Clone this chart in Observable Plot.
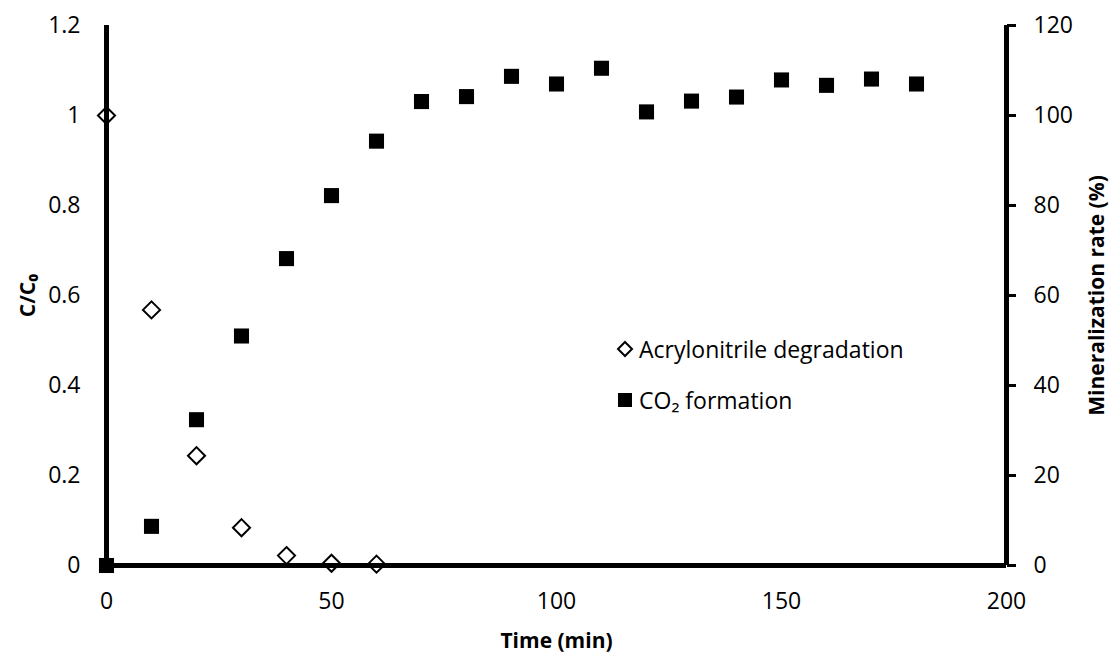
<!DOCTYPE html>
<html>
<head>
<meta charset="utf-8">
<script src="https://cdn.jsdelivr.net/npm/d3@7"></script>
<script src="https://cdn.jsdelivr.net/npm/@observablehq/plot@0.6"></script>
<style>
  body { margin: 0; background: #fff; }
  #wrap { position: relative; width: 1111px; height: 652px; font-family: "Open Sans", sans-serif; }
  #legend { position: absolute; left: 615px; top: 333px; font-size: 23px; color: #000; line-height: 1; }
  #legend .row { display: flex; align-items: center; height: 32px; margin-bottom: 19px; }
  #legend svg { margin-right: 4px; }
</style>
</head>
<body>
<div id="wrap"><div id="legend"></div></div>
<script>
const timeMin = [0,10,20,30,40,50,60,70,80,90,100,110,120,130,140,150,160,170,180];
const acryTime = [0,10,20,30,40,50,60];
const acryCC0 = [1.0,0.568,0.244,0.084,0.022,0.005,0.003];
const co2Rate = [0,8.7,32.4,51.0,68.2,82.2,94.3,103.1,104.2,108.7,107.0,110.5,100.8,103.2,104.1,107.9,106.7,108.1,107.0];
const xTicks = [0,50,100,150,200];
const yTicksLeft = [0,0.2,0.4,0.6,0.8,1.0,1.2];
const seriesNames = ["Acrylonitrile degradation","CO\u2082 formation"];

const acry = acryTime.map((t,i)=>({t, v: acryCC0[i]}));
// CO2 plotted on shared y scale: right axis = left * 100
const co2 = timeMin.map((t,i)=>({t, v: co2Rate[i]/100}));

const font = "Open Sans, sans-serif";
const chart = Plot.plot({
  width: 1111,
  height: 652,
  marginLeft: 106,
  marginRight: 105,
  marginTop: 25,
  marginBottom: 87,
  style: {fontFamily: font, fontSize: "23px", color: "#000", background: "#fff"},
  x: {domain: [0,200]},
  y: {domain: [0,1.2]},
  marks: [
    Plot.axisX({ticks: xTicks, tickSize: 0, tickPadding: 27, fontSize: 23, label: null}),
    Plot.axisY({anchor: "left", ticks: yTicksLeft, tickSize: 0, tickPadding: 26, fontSize: 23,
      tickFormat: d => d3.format("~g")(d), label: null}),
    Plot.axisY({anchor: "right", ticks: yTicksLeft, tickSize: 9, strokeWidth: 3, tickPadding: 18, fontSize: 23,
      tickFormat: d => String(Math.round(d*100)), label: null}),
    Plot.ruleX([0], {y1: 0, y2: 1.2, strokeWidth: 5}),
    Plot.ruleX([200], {y1: 0, y2: 1.2, strokeWidth: 5}),
    Plot.ruleY([0], {x1: 0, x2: 200, strokeWidth: 5}),
    Plot.dot(co2, {x: "t", y: "v", symbol: "square", r: 8.5, fill: "#000", stroke: "none"}),
    Plot.dot(acry, {x: "t", y: "v", symbol: "diamond2", r: 7.7, fill: "none", stroke: "#000", strokeWidth: 2}),
    Plot.text(["Time (min)"], {frameAnchor: "bottom", textAnchor: "middle", dy: 82, fontSize: 21, fontWeight: "bold"}),
    Plot.text(["C/C\u2080"], {frameAnchor: "left", textAnchor: "middle", dx: -78, rotate: -90, fontSize: 21, fontWeight: "bold"}),
    Plot.text(["Mineralization rate (%)"], {frameAnchor: "right", textAnchor: "middle", dx: 91, rotate: -90, fontSize: 21, fontWeight: "bold"})
  ]
});
const wrap = document.getElementById("wrap");
wrap.insertBefore(chart, wrap.firstChild);

const legend = document.getElementById("legend");
const icons = [
  '<svg width="20" height="20" viewBox="-10 -10 20 20"><path d="M0,-7L7,0L0,7L-7,0Z" fill="none" stroke="#000" stroke-width="2"/></svg>',
  '<svg width="20" height="20" viewBox="-10 -10 20 20"><rect x="-7" y="-7" width="14" height="14" fill="#000"/></svg>'
];
seriesNames.forEach((name,i)=>{
  const row = document.createElement("div");
  row.className = "row";
  row.innerHTML = icons[i] + '<span>' + name + '</span>';
  legend.appendChild(row);
});
</script>
</body>
</html>
